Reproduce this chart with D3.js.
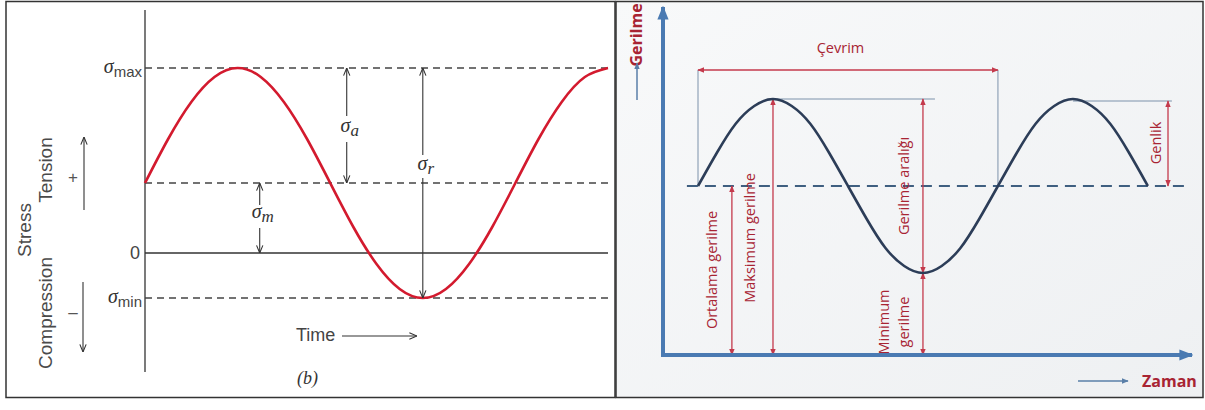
<!DOCTYPE html>
<html><head><meta charset="utf-8">
<script src="https://cdn.jsdelivr.net/npm/d3@7"></script>
<style>body{margin:0;background:#fff}svg{display:block}</style>
</head><body>
<script>
// ---------- DATA ----------
// Left panel: stress vs time (cycles), zero line = 0
const leftTime = [0,0.0625,0.125,0.1875,0.25,0.3125,0.375,0.4375,0.5,0.5625,0.625,0.6875,0.75,0.8125,0.875,0.9375,1,1.0625,1.125,1.1875,1.25];
const leftStress = [70,114,151,176,185,176,151,114,70,26,-11,-36,-45,-36,-11,26,70,114,151,176,185];
const leftLevelNames = ["max","mean","zero","min"];
const leftLevelValues = [185,70,0,-45];
// Right panel: stress vs time (cycles), x axis = 0
const rightTime = [0,0.0625,0.125,0.1875,0.25,0.3125,0.375,0.4375,0.5,0.5625,0.625,0.6875,0.75,0.8125,0.875,0.9375,1,1.0625,1.125,1.1875,1.25,1.3125,1.375,1.4375,1.5];
const rightStress = [169,202,231,249,256,249,231,202,169,136,107,89,82,89,107,136,169,202,231,249,256,249,231,202,169];
const rightMean = 169, rightMax = 256, rightMin = 82;
const rightLabels = ["Çevrim","Maksimum gerilme","Ortalama gerilme","Gerilme aralığı","Minimum","gerilme","Genlik"];

// ---------- SETUP ----------
const W = 1205, H = 410;
const svg = d3.select("body").append("svg").attr("width", W).attr("height", H);
const defs = svg.append("defs");
function openArrow(id, color){
  defs.append("marker").attr("id", id).attr("viewBox","0 0 10 10").attr("refX",9.5).attr("refY",5)
    .attr("markerWidth",9).attr("markerHeight",9).attr("markerUnits","userSpaceOnUse").attr("orient","auto-start-reverse")
    .append("path").attr("d","M1,1.5 L9.5,5 L1,8.5").attr("fill","none").attr("stroke",color).attr("stroke-width",1.2);
}
function filledArrow(id, color, size){
  defs.append("marker").attr("id", id).attr("viewBox","0 0 10 10").attr("refX",9).attr("refY",5)
    .attr("markerWidth",size).attr("markerHeight",size).attr("markerUnits","userSpaceOnUse").attr("orient","auto-start-reverse")
    .append("path").attr("d","M0,1 L10,5 L0,9 Z").attr("fill",color);
}
openArrow("ga","#333");
filledArrow("ra","#c43a4c",7);
filledArrow("ba","#4a7ab2",14);
filledArrow("bs","#5a7fa8",7);

// ---------- LEFT PANEL ----------
svg.append("rect").attr("x",6).attr("y",1.5).attr("width",609).attr("height",396)
  .attr("fill","#fff").attr("stroke","#333").attr("stroke-width",1.5);

const xL = d3.scaleLinear().domain([0,1.25]).range([145,608]);
const yL = d3.scaleLinear().domain([-119,243]).range([372,10]);
const L = svg.append("g");
const lvl = n => leftLevelValues[leftLevelNames.indexOf(n)];

// y axis
L.append("line").attr("x1",xL(0)).attr("x2",xL(0)).attr("y1",yL(-119)).attr("y2",yL(243))
  .attr("stroke","#333").attr("stroke-width",1.3);
// zero line
L.append("line").attr("x1",xL(0)).attr("x2",xL(1.25)).attr("y1",yL(0)).attr("y2",yL(0))
  .attr("stroke","#333").attr("stroke-width",1.3);
// dashed levels
["max","mean","min"].forEach(n=>{
  L.append("line").attr("x1",xL(0)).attr("x2",xL(1.25)).attr("y1",yL(lvl(n))).attr("y2",yL(lvl(n)))
   .attr("stroke","#444").attr("stroke-width",1.3).attr("stroke-dasharray","7,5");
});
// curve
L.append("path").datum(leftTime.map((t,i)=>[t,leftStress[i]]))
  .attr("d", d3.line().x(d=>xL(d[0])).y(d=>yL(d[1])).curve(d3.curveNatural))
  .attr("fill","none").attr("stroke","#d31a2e").attr("stroke-width",2.6);

function lArrow(x, v1, v2){ // arrow from v1 toward v2 (head at v2)
  L.append("line").attr("x1",x).attr("x2",x).attr("y1",yL(v1)).attr("y2",yL(v2))
   .attr("stroke","#333").attr("stroke-width",1.1).attr("marker-end","url(#ga)");
}
// sigma_m
const xm = xL(0.3097);
lArrow(xm, 48, lvl("mean"));
lArrow(xm, 25, 0);
// sigma_a
const xa = xL(0.5446);
lArrow(xa, 137, lvl("max"));
lArrow(xa, 111, lvl("mean"));
// sigma_r
const xr = xL(0.75);
lArrow(xr, 98, lvl("max"));
lArrow(xr, 75, lvl("min"));

const serif = "'Liberation Serif','DejaVu Serif',serif";
const sans = "'Liberation Sans',Arial,sans-serif";
function sigma(g, x, y, sub, anchor, subItalic){
  const t = g.append("text").attr("x",x).attr("y",y).attr("text-anchor",anchor).attr("fill","#333");
  t.append("tspan").text("σ").attr("font-family",serif).attr("font-style","italic").attr("font-size",20);
  t.append("tspan").text(sub).attr("dy",4).attr("font-family",subItalic?serif:sans)
   .attr("font-style",subItalic?"italic":"normal").attr("font-size",subItalic?17:15).attr("fill",subItalic?"#333":"#444");
  return t;
}
sigma(L, xL(0)-3, yL(lvl("max"))+5, "max","end",false);
sigma(L, xL(0)-3, yL(lvl("min"))+5, "min","end",false);
L.append("text").attr("x",xL(0)-5).attr("y",yL(0)+6).attr("text-anchor","end")
  .attr("font-family",sans).attr("font-size",18).attr("fill","#444").text("0");
sigma(L, xm+3, yL(lvl("mean"))+35, "m","middle",true);
sigma(L, xa+3, yL(125)+4, "a","middle",true);
sigma(L, xr+3, yL(87)+4, "r","middle",true);

// side labels
function vtext(g, x, y, txt, size, color, family, weight){
  g.append("text").attr("transform",`translate(${x},${y}) rotate(-90)`).attr("text-anchor","middle")
   .attr("font-family",family).attr("font-size",size).attr("fill",color).attr("font-weight",weight||"normal").text(txt);
}
vtext(L, 31, 230, "Stress", 19, "#4a4a4a", sans);
vtext(L, 52, 170, "Tension", 19, "#4a4a4a", sans);
vtext(L, 52, 313, "Compression", 19, "#4a4a4a", sans);
L.append("text").attr("x",73).attr("y",183).attr("text-anchor","middle").attr("font-family",sans)
  .attr("font-size",17).attr("fill","#555").text("+");
L.append("text").attr("x",73).attr("y",318).attr("text-anchor","middle").attr("font-family",sans)
  .attr("font-size",17).attr("fill","#555").text("–");
L.append("line").attr("x1",84).attr("x2",84).attr("y1",210).attr("y2",137)
  .attr("stroke","#333").attr("stroke-width",1.1).attr("marker-end","url(#ga)");
L.append("line").attr("x1",83).attr("x2",83).attr("y1",282).attr("y2",352)
  .attr("stroke","#333").attr("stroke-width",1.1).attr("marker-end","url(#ga)");
// Time
L.append("text").attr("x",296).attr("y",341).attr("font-family",sans).attr("font-size",18)
  .attr("fill","#444").text("Time");
L.append("line").attr("x1",342).attr("x2",417).attr("y1",336).attr("y2",336)
  .attr("stroke","#333").attr("stroke-width",1.1).attr("marker-end","url(#ga)");
L.append("text").attr("x",297).attr("y",384).attr("font-family",serif).attr("font-style","italic")
  .attr("font-size",18).attr("fill","#333").text("(b)");

// ---------- RIGHT PANEL ----------
const grad = defs.append("linearGradient").attr("id","bg").attr("x1","0").attr("y1","0").attr("x2","1").attr("y2","1");
grad.append("stop").attr("offset","0").attr("stop-color","#f8f9fa");
grad.append("stop").attr("offset","1").attr("stop-color","#eef0f2");
svg.append("rect").attr("x",616).attr("y",1.5).attr("width",587).attr("height",396)
  .attr("fill","url(#bg)").attr("stroke","#333").attr("stroke-width",1.5);

const xR = d3.scaleLinear().domain([-0.1167,1.647]).range([663,1192]);
const yR = d3.scaleLinear().domain([0,300]).range([355,55]);
const R = svg.append("g");
const red = "#c43a4c", redText = "#a82433", thin = "#7d92ab";

// dashed mean
R.append("line").attr("x1",xR(-0.037)).attr("x2",xR(1.63)).attr("y1",yR(rightMean)).attr("y2",yR(rightMean))
  .attr("stroke","#3f5f80").attr("stroke-width",2).attr("stroke-dasharray","11,7");
// cycle guide lines
[0,1].forEach(t=>{
  R.append("line").attr("x1",xR(t)).attr("x2",xR(t)).attr("y1",yR(285)).attr("y2",yR(rightMean))
   .attr("stroke",thin).attr("stroke-width",1);
});
// peak guide lines
R.append("line").attr("x1",xR(0.25)).attr("x2",xR(0.79)).attr("y1",yR(rightMax)).attr("y2",yR(rightMax))
  .attr("stroke",thin).attr("stroke-width",1);
R.append("line").attr("x1",xR(1.25)).attr("x2",xR(1.58)).attr("y1",yR(rightMax-2)).attr("y2",yR(rightMax-2))
  .attr("stroke",thin).attr("stroke-width",1);

// red double arrows
function rArrowH(t1,t2,v){
  R.append("line").attr("x1",xR(t1)).attr("x2",xR(t2)).attr("y1",yR(v)).attr("y2",yR(v))
   .attr("stroke",red).attr("stroke-width",1.3).attr("marker-start","url(#ra)").attr("marker-end","url(#ra)");
}
function rArrowV(t,v1,v2){
  R.append("line").attr("x1",xR(t)).attr("x2",xR(t)).attr("y1",yR(v1)).attr("y2",yR(v2))
   .attr("stroke",red).attr("stroke-width",1.3).attr("marker-start","url(#ra)").attr("marker-end","url(#ra)");
}
rArrowH(0,1,285);
rArrowV(0.113,0,rightMean);
rArrowV(0.25,0,rightMax);
rArrowV(0.75,rightMin,rightMax);
rArrowV(0.75,0,rightMin);
rArrowV(1.567,rightMean,rightMax-2);

// curve
R.append("path").datum(rightTime.map((t,i)=>[t,rightStress[i]]))
  .attr("d", d3.line().x(d=>xR(d[0])).y(d=>yR(d[1])).curve(d3.curveNatural))
  .attr("fill","none").attr("stroke","#2c3d58").attr("stroke-width",2.6);

// axes
R.append("line").attr("x1",xR(-0.1167)).attr("x2",xR(-0.1167)).attr("y1",yR(0)+2).attr("y2",yR(348))
  .attr("stroke","#4a7ab2").attr("stroke-width",4).attr("marker-end","url(#ba)");
R.append("line").attr("x1",xR(-0.1167)-2).attr("x2",xR(1.647)).attr("y1",yR(0)).attr("y2",yR(0))
  .attr("stroke","#4a7ab2").attr("stroke-width",4).attr("marker-end","url(#ba)");

const rf = "'Open Sans','Noto Sans',sans-serif";
// axis titles
vtext(R, 642, 35, "Gerilme", 16, redText, rf, "bold");
R.append("line").attr("x1",637).attr("x2",637).attr("y1",100).attr("y2",63)
  .attr("stroke","#5a7fa8").attr("stroke-width",1.5).attr("marker-end","url(#bs)");
R.append("text").attr("x",1142).attr("y",387).attr("font-family",rf).attr("font-weight","bold")
  .attr("font-size",16).attr("fill",redText).text("Zaman");
R.append("line").attr("x1",1078).attr("x2",1128).attr("y1",381).attr("y2",381)
  .attr("stroke","#5a7fa8").attr("stroke-width",1.5).attr("marker-end","url(#bs)");

// annotation labels
R.append("text").attr("x",xR(0.475)).attr("y",53).attr("text-anchor","middle").attr("font-family",rf)
  .attr("font-size",14.5).attr("fill",redText).text(rightLabels[0]);
vtext(R, xR(0.25)-18, 238, rightLabels[1], 14.5, redText, rf);
vtext(R, xR(0.113)-15, 270, rightLabels[2], 14.5, redText, rf);
vtext(R, xR(0.75)-14, 186, rightLabels[3], 14.5, redText, rf);
vtext(R, xR(0.75)-34, 322, rightLabels[4], 14.5, redText, rf);
vtext(R, xR(0.75)-14, 322, rightLabels[5], 14.5, redText, rf);
vtext(R, xR(1.567)-7, 143, rightLabels[6], 14.5, redText, rf);
</script>
</body></html>
